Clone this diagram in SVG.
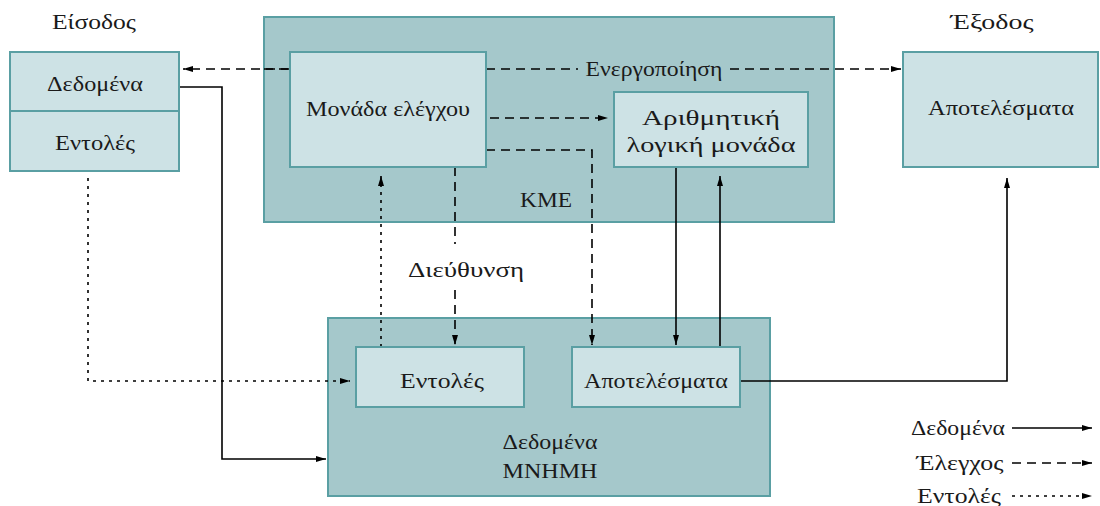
<svg xmlns="http://www.w3.org/2000/svg" width="1100" height="506" viewBox="0 0 1100 506">
<style>
.outer{fill:#a5c8cb;stroke:#5a9fa3;stroke-width:2}
.inner{fill:#cde2e5;stroke:#5a9fa3;stroke-width:2}
text{font-family:"Liberation Serif","DejaVu Serif",serif;font-size:21px;fill:#1a1a1a;text-anchor:middle}
.c{fill:none;stroke:#000;stroke-width:1.6}
.d{stroke-dasharray:9 6}
.o{stroke-dasharray:3 5}
</style>
<defs>
<marker id="ah" viewBox="0 0 10 6" refX="10" refY="3" markerWidth="10" markerHeight="6" markerUnits="userSpaceOnUse" orient="auto">
<path d="M0,0 L10,3 L0,6 Z" fill="#000"/>
</marker>
</defs>
<rect width="1100" height="506" fill="#fff"/>
<g id="kme">
<rect class="outer" x="264" y="17" width="570" height="205"/>
<text x="546" y="207" textLength="52" lengthAdjust="spacingAndGlyphs">ΚΜΕ</text>
</g>
<g id="mnimi">
<rect class="outer" x="328" y="318" width="442" height="178"/>
<text x="550" y="449" textLength="95" lengthAdjust="spacingAndGlyphs">Δεδομένα</text>
<text x="550" y="478" textLength="95" lengthAdjust="spacingAndGlyphs">ΜΝΗΜΗ</text>
</g>
<g id="connectors">
<path class="c d" d="M290,69 H183" marker-end="url(#ah)"/>
<path class="c d" d="M264,69 H290"/>
<path class="c d" d="M486,69 H578"/>
<path class="c d" d="M730,69 H901" marker-end="url(#ah)"/>
<path class="c d" d="M490,118 H608" marker-end="url(#ah)"/>
<path class="c d" d="M486,150 H592 V345" marker-end="url(#ah)"/>
<path class="c d" d="M455,167 V244"/>
<path class="c d" d="M455,290 V345" marker-end="url(#ah)"/>
<path class="c o" d="M381,347 V176" marker-end="url(#ah)"/>
<path class="c" d="M676,167 V345" marker-end="url(#ah)"/>
<path class="c" d="M720,347 V176" marker-end="url(#ah)"/>
<path class="c" d="M740,381 H1007 V178" marker-end="url(#ah)"/>
<path class="c" d="M176,87 H222 V459 H326" marker-end="url(#ah)"/>
<path class="c o" d="M88,178 V381 H350" marker-end="url(#ah)"/>
<text x="466" y="277" textLength="116" lengthAdjust="spacingAndGlyphs">Διεύθυνση</text>
<text x="654" y="76" textLength="137" lengthAdjust="spacingAndGlyphs">Ενεργοποίηση</text>
</g>
<g id="input">
<text x="94" y="29" textLength="84" lengthAdjust="spacingAndGlyphs">Είσοδος</text>
<rect class="inner" x="10" y="52" width="169" height="59"/>
<rect class="inner" x="10" y="111" width="169" height="60"/>
<text x="95" y="91" textLength="96" lengthAdjust="spacingAndGlyphs">Δεδομένα</text>
<text x="95" y="150" textLength="80" lengthAdjust="spacingAndGlyphs">Εντολές</text>
</g>
<g id="control">
<rect class="inner" x="290" y="52" width="196" height="115"/>
<text x="388" y="116" textLength="164" lengthAdjust="spacingAndGlyphs">Μονάδα ελέγχου</text>
</g>
<g id="alu">
<rect class="inner" x="614" y="92" width="194" height="75"/>
<text x="711" y="125" textLength="138" lengthAdjust="spacingAndGlyphs">Αριθμητική</text>
<text x="711" y="152" textLength="169" lengthAdjust="spacingAndGlyphs">λογική μονάδα</text>
</g>
<g id="output">
<text x="992" y="29" textLength="83" lengthAdjust="spacingAndGlyphs">Έξοδος</text>
<rect class="inner" x="903" y="52" width="195" height="115"/>
<text x="1001" y="115" textLength="146" lengthAdjust="spacingAndGlyphs">Αποτελέσματα</text>
</g>
<g id="mem-instr">
<rect class="inner" x="356" y="347" width="168" height="60"/>
<text x="442" y="388" textLength="84" lengthAdjust="spacingAndGlyphs">Εντολές</text>
</g>
<g id="mem-results">
<rect class="inner" x="572" y="347" width="168" height="60"/>
<text x="656" y="388" textLength="144" lengthAdjust="spacingAndGlyphs">Αποτελέσματα</text>
</g>
<g id="legend">
<text x="958" y="435" textLength="94" lengthAdjust="spacingAndGlyphs">Δεδομένα</text>
<text x="960" y="470" textLength="87" lengthAdjust="spacingAndGlyphs">Έλεγχος</text>
<text x="959" y="503" textLength="84" lengthAdjust="spacingAndGlyphs">Εντολές</text>
<path class="c" d="M1012,428 H1092" marker-end="url(#ah)"/>
<path class="c d" d="M1012,463 H1092" marker-end="url(#ah)"/>
<path class="c o" d="M1012,496 H1092" marker-end="url(#ah)"/>
</g>
</svg>
